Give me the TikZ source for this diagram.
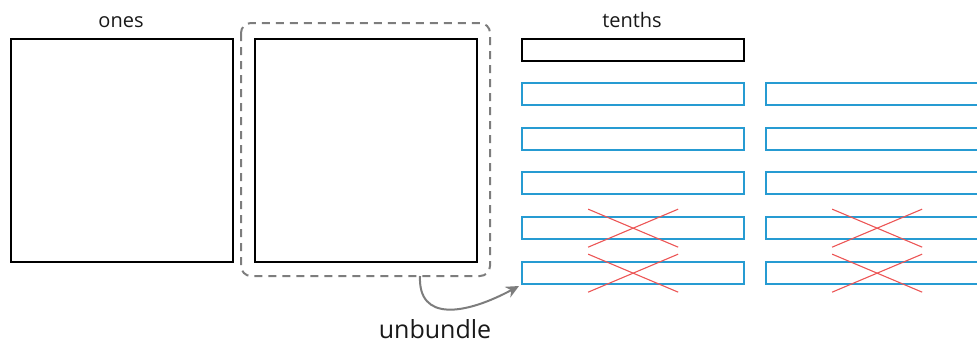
\documentclass[tikz,border=0pt]{standalone}
\usepackage{fontspec}
\setmainfont{Open Sans}
\usetikzlibrary{calc,arrows.meta}
\definecolor{tenthblue}{RGB}{38,155,210}
\definecolor{crossred}{RGB}{236,85,85}
\definecolor{bundlegray}{RGB}{125,125,125}
\tikzset{
  onebox/.style={draw=black, line width=2.3pt, inner sep=0pt, minimum width=222pt, minimum height=223pt, anchor=north west},
  tenthblack/.style={draw=black, line width=2.3pt, inner sep=0pt, minimum width=222pt, minimum height=22pt, anchor=north west},
  tenthbox/.style={draw=tenthblue, line width=2.3pt, inner sep=0pt, minimum width=222pt, minimum height=22pt, anchor=north west},
  bundlebox/.style={draw=bundlegray, line width=2pt, dash pattern=on 8pt off 6pt, rounded corners=10pt},
  crossline/.style={draw=crossred, line width=1.1pt},
  lbl/.style={font=\fontsize{20}{24}\selectfont, text=black!90, anchor=base, inner sep=0pt},
  biglbl/.style={font=\fontsize{25}{29}\selectfont, text=black!90, anchor=base, inner sep=0pt},
  unbundlearrow/.style={draw=bundlegray, line width=2pt, -{Stealth[length=13pt,width=12pt]}}
}
\begin{document}
\begin{tikzpicture}[x=1pt,y=-1pt]
\useasboundingbox (0,0) rectangle (977,343);
\clip (0,0) rectangle (977,343);
% ones
\node[onebox] (one1) at (10,38) {};
\node[onebox] (one2) at (254,38) {};
\node[lbl] (ones) at (121,27) {ones};
\draw[bundlebox] (241,23) rectangle (490,276);
\coordinate (bstart) at (420,276);
% tenths
\node[lbl] (tenths) at (632,27) {tenths};
\node[tenthblack] (t0) at (521,38) {};
\foreach \i/\y in {1/82,2/127,3/171,4/216,5/261}{
  \node[tenthbox] (a\i) at (521,\y) {};
  \node[tenthbox] (b\i) at (765,\y) {};
}
% crosses
\foreach \c in {a4,a5,b4,b5}{
  \draw[crossline] ($(\c.center)+(-45,-19)$) -- ($(\c.center)+(45,19)$);
  \draw[crossline] ($(\c.center)+(-45,19)$) -- ($(\c.center)+(45,-19)$);
}
% arrow
\coordinate (bend) at (519,286);
\draw[unbundlearrow] (bstart) .. controls (418,322) and (465,315) .. (bend);
\node[biglbl] (unb) at (435,338.5) {unbundle};
\end{tikzpicture}
\end{document}
